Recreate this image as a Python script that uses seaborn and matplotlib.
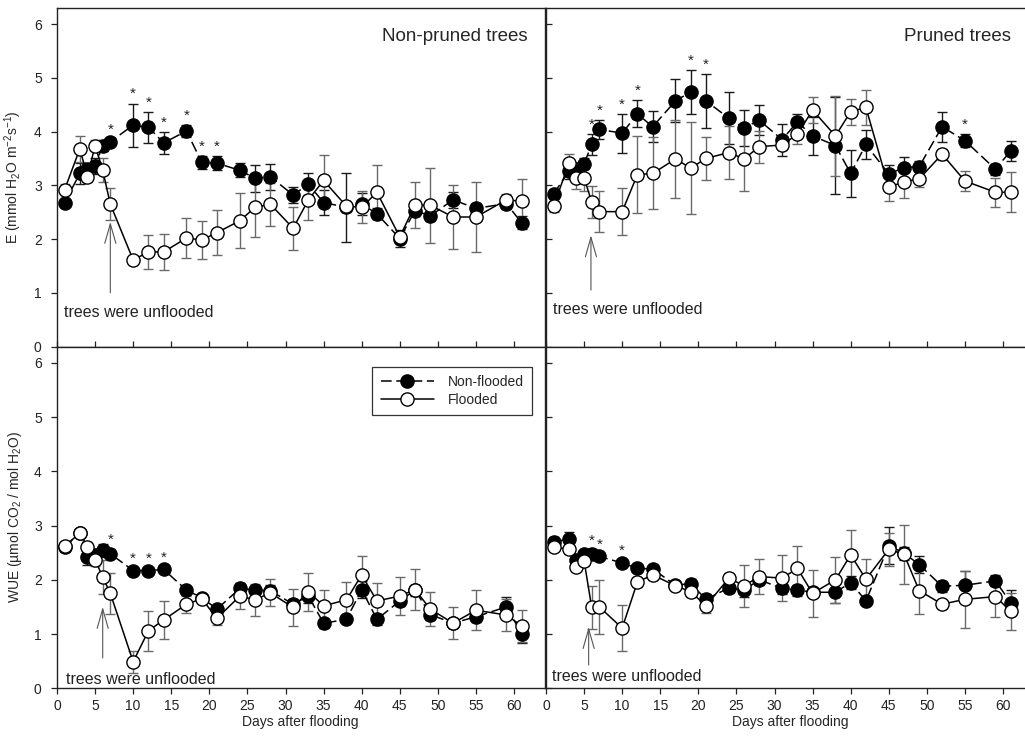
import matplotlib
matplotlib.use('Agg')
import matplotlib.pyplot as plt
import seaborn as sns


# Jours de mesure (communs aux 4 panneaux)
days = [1, 3, 4, 5, 6, 7, 10, 12, 14, 17, 19, 21, 24, 26, 28, 31, 33, 35, 38, 40,
        42, 45, 47, 49, 52, 55, 59, 61]

# E - arbres non taillés
e_np_nonflooded = [2.68, 3.22, 3.30, 3.36, 3.74, 3.81, 4.12, 4.08, 3.79, 4.01, 3.43, 3.41, 3.28, 3.13,
                   3.16, 2.82, 3.02, 2.68, 2.59, 2.65, 2.47, 2.01, 2.53, 2.43, 2.73, 2.57, 2.66, 2.30]
e_np_nonflooded_err = [0.07, 0.20, 0.10, 0.15, 0.10, 0.05, 0.40, 0.29, 0.20, 0.11, 0.12, 0.13, 0.13, 0.25,
                       0.24, 0.15, 0.20, 0.23, 0.64, 0.20, 0.10, 0.15, 0.10, 0.10, 0.15, 0.10, 0.10, 0.12]
e_np_flooded = [2.92, 3.68, 3.16, 3.74, 3.28, 2.65, 1.61, 1.76, 1.76, 2.02, 1.98, 2.12, 2.34, 2.59,
                2.65, 2.20, 2.73, 3.09, 2.61, 2.59, 2.87, 2.04, 2.63, 2.63, 2.41, 2.41, 2.73, 2.70]
e_np_flooded_err = [0.10, 0.24, 0.10, 0.10, 0.22, 0.30, 0.05, 0.32, 0.33, 0.38, 0.36, 0.42, 0.51, 0.55,
                    0.40, 0.40, 0.37, 0.47, 0.10, 0.30, 0.50, 0.10, 0.43, 0.70, 0.60, 0.66, 0.10, 0.42]

# E - arbres taillés
e_p_nonflooded = [2.84, 3.26, 3.30, 3.40, 3.76, 4.04, 3.97, 4.33, 4.09, 4.57, 4.74, 4.57, 4.25, 4.07,
                  4.21, 3.85, 4.18, 3.92, 3.74, 3.22, 3.76, 3.21, 3.33, 3.35, 4.09, 3.83, 3.30, 3.64]
e_p_nonflooded_err = [0.10, 0.15, 0.10, 0.10, 0.20, 0.17, 0.36, 0.25, 0.29, 0.40, 0.41, 0.50, 0.48, 0.34,
                      0.28, 0.30, 0.15, 0.35, 0.90, 0.43, 0.27, 0.16, 0.20, 0.10, 0.28, 0.12, 0.10, 0.18]
e_p_flooded = [2.61, 3.41, 3.14, 3.14, 2.69, 2.51, 2.51, 3.20, 3.22, 3.49, 3.32, 3.50, 3.61, 3.49,
               3.72, 3.75, 3.95, 4.40, 3.92, 4.37, 4.45, 2.96, 3.07, 3.12, 3.58, 3.08, 2.87, 2.87]
e_p_flooded_err = [0.10, 0.18, 0.20, 0.25, 0.29, 0.38, 0.44, 0.71, 0.67, 0.72, 0.85, 0.40, 0.50, 0.60,
                   0.30, 0.10, 0.18, 0.24, 0.75, 0.24, 0.33, 0.25, 0.30, 0.15, 0.10, 0.19, 0.27, 0.37]

# WUE - arbres non taillés
wue_np_nonflooded = [2.60, 2.87, 2.42, 2.45, 2.54, 2.48, 2.17, 2.17, 2.19, 1.81, 1.67, 1.46, 1.84, 1.81,
                     1.80, 1.55, 1.70, 1.20, 1.27, 1.82, 1.27, 1.61, 1.81, 1.36, 1.20, 1.32, 1.50, 1.01]
wue_np_nonflooded_err = [0.08, 0.07, 0.15, 0.10, 0.12, 0.08, 0.05, 0.05, 0.05, 0.07, 0.05, 0.06, 0.10, 0.08,
                         0.10, 0.10, 0.12, 0.08, 0.05, 0.15, 0.10, 0.10, 0.10, 0.10, 0.08, 0.10, 0.18, 0.17]
wue_np_flooded = [2.62, 2.86, 2.61, 2.37, 2.05, 1.75, 0.49, 1.06, 1.26, 1.55, 1.65, 1.29, 1.70, 1.63,
                  1.76, 1.49, 1.78, 1.52, 1.63, 2.09, 1.61, 1.70, 1.82, 1.46, 1.20, 1.44, 1.35, 1.15]
wue_np_flooded_err = [0.08, 0.05, 0.08, 0.12, 0.31, 0.38, 0.20, 0.37, 0.35, 0.16, 0.08, 0.12, 0.23, 0.30,
                      0.25, 0.34, 0.35, 0.30, 0.33, 0.34, 0.34, 0.35, 0.37, 0.32, 0.29, 0.37, 0.30, 0.30]

# WUE - arbres taillés
wue_p_nonflooded = [2.70, 2.75, 2.36, 2.47, 2.47, 2.43, 2.31, 2.21, 2.20, 1.90, 1.93, 1.64, 1.85, 1.81,
                    2.00, 1.84, 1.81, 1.77, 1.77, 1.95, 1.61, 2.63, 2.49, 2.28, 1.88, 1.90, 1.98, 1.58]
wue_p_nonflooded_err = [0.08, 0.14, 0.08, 0.08, 0.08, 0.05, 0.06, 0.06, 0.08, 0.08, 0.08, 0.10, 0.10, 0.12,
                        0.10, 0.10, 0.10, 0.08, 0.20, 0.12, 0.08, 0.34, 0.12, 0.15, 0.10, 0.27, 0.10, 0.23]
wue_p_flooded = [2.61, 2.56, 2.24, 2.35, 1.49, 1.50, 1.11, 1.96, 2.09, 1.89, 1.78, 1.52, 2.03, 1.89,
                 2.06, 2.03, 2.21, 1.75, 2.00, 2.46, 2.01, 2.56, 2.47, 1.80, 1.55, 1.64, 1.69, 1.42]
wue_p_flooded_err = [0.08, 0.08, 0.08, 0.10, 0.39, 0.50, 0.43, 0.10, 0.10, 0.08, 0.10, 0.14, 0.10, 0.39,
                     0.33, 0.43, 0.42, 0.43, 0.42, 0.46, 0.37, 0.30, 0.54, 0.43, 0.08, 0.53, 0.38, 0.34]

# Jours avec différence significative (*)
stars_e_np = [7, 10, 12, 14, 17, 19, 21]
stars_e_p = [6, 7, 10, 12, 19, 21, 55]
stars_wue_np = [7, 10, 12, 14]
stars_wue_p = [6, 7, 10]

panel_titles = ['Non-pruned trees', 'Pruned trees']
legend_labels = ['Non-flooded', 'Flooded']
unflooded_text = 'trees were unflooded'


###########################################################

sns.set_style('ticks')
plt.rcParams['font.family'] = ['Liberation Sans', 'DejaVu Sans']
plt.rcParams['mathtext.fontset'] = 'custom'
plt.rcParams['mathtext.rm'] = 'Liberation Sans'
plt.rcParams['mathtext.it'] = 'Liberation Sans:italic'
plt.rcParams['axes.edgecolor'] = '#222222'
plt.rcParams['axes.linewidth'] = 1.0


def trace_panel(ax, nonflooded, nonflooded_err, flooded, flooded_err, stars, label=False):
    ''' 
        trace les deux séries (non inondé / inondé) avec barres d'erreur et étoiles
    '''
    ax.errorbar(days, nonflooded, yerr=nonflooded_err, fmt='none', ecolor='#1a1a1a',
                elinewidth=1.0, capsize=3.5, capthick=1.0, zorder=2)
    ax.errorbar(days, flooded, yerr=flooded_err, fmt='none', ecolor='#6a6a6a',
                elinewidth=1.0, capsize=3.5, capthick=1.0, zorder=2)
    sns.lineplot(x=days, y=nonflooded, ax=ax, color='black', linewidth=1.1,
                 linestyle=(0, (7, 3)), marker='o', markersize=9.5,
                 markerfacecolor='black', markeredgecolor='black', markeredgewidth=1.0,
                 errorbar=None, zorder=3, label=legend_labels[0] if label else None)
    sns.lineplot(x=days, y=flooded, ax=ax, color='black', linewidth=1.1,
                 marker='o', markersize=9.5, markerfacecolor='white',
                 markeredgecolor='black', markeredgewidth=1.0,
                 errorbar=None, zorder=4, label=legend_labels[1] if label else None)

    # étoiles au-dessus de la barre d'erreur de la série non inondée
    for d in stars:
        i = days.index(d)
        ax.text(d, nonflooded[i] + nonflooded_err[i] + 0.1, '*', ha='center',
                va='baseline', fontsize=11, color='#222222')


fig = plt.figure(figsize=(10.25, 7.36), dpi=100)

W, H = 1025, 736
col_x = [57, 546]
row_y = [(8, 346.5), (346.5, 688.3)]
ax_w = 487.5

axes = {}
for r, (y_top, y_bot) in enumerate(row_y):
    for c, x0 in enumerate(col_x):
        axes[(r, c)] = fig.add_axes([x0 / W, 1 - y_bot / H, ax_w / W, (y_bot - y_top) / H])

trace_panel(axes[(0, 0)], e_np_nonflooded, e_np_nonflooded_err, e_np_flooded, e_np_flooded_err, stars_e_np)
trace_panel(axes[(0, 1)], e_p_nonflooded, e_p_nonflooded_err, e_p_flooded, e_p_flooded_err, stars_e_p)
trace_panel(axes[(1, 0)], wue_np_nonflooded, wue_np_nonflooded_err, wue_np_flooded, wue_np_flooded_err,
            stars_wue_np, label=True)
trace_panel(axes[(1, 1)], wue_p_nonflooded, wue_p_nonflooded_err, wue_p_flooded, wue_p_flooded_err,
            stars_wue_p)

for (r, c), ax in axes.items():
    ax.set_xlim(0, 64)
    ax.set_ylim(0, 6.3)
    ax.set_xticks(range(0, 65, 5))
    ax.set_yticks(range(0, 7))
    ax.tick_params(colors='#222222', labelsize=10, length=4, width=0.9)
    for s in ax.spines.values():
        s.set_visible(True)
    ax.set_xlabel('')
    ax.set_ylabel('')
    if r == 0:
        ax.tick_params(axis='x', direction='in', labelbottom=False)
    else:
        ax.set_xlabel('Days after flooding', fontsize=10, labelpad=2)
    if c == 1:
        ax.tick_params(axis='y', direction='in', labelleft=False)
        ax.spines['right'].set_visible(False)
    else:
        ax.tick_params(axis='y', pad=7)

axes[(0, 0)].set_ylabel('E (mmol H$_2$O m$^{-2}$s$^{-1}$)', fontsize=10)
axes[(1, 0)].set_ylabel('WUE (µmol CO$_2$ / mol H$_2$O)', fontsize=10)
axes[(0, 0)].yaxis.set_label_coords(-0.068, 0.5)
axes[(1, 0)].yaxis.set_label_coords(-0.068, 0.5)

# titres des colonnes
axes[(0, 0)].text(0.965, 0.915, panel_titles[0], transform=axes[(0, 0)].transAxes,
                  ha='right', va='center', fontsize=13.5)
axes[(0, 1)].text(0.953, 0.915, panel_titles[1], transform=axes[(0, 1)].transAxes,
                  ha='right', va='center', fontsize=13.5)

# flèches "trees were unflooded"
arrows = {(0, 0): (7.0, 1.0, 2.32, 0.9, 0.64),
          (0, 1): (5.9, 1.05, 2.07, 0.9, 0.68),
          (1, 0): (6.0, 0.56, 1.50, 1.2, 0.17),
          (1, 1): (5.6, 0.43, 1.13, 0.75, 0.21)}
for key, (xa, y0, y1, xt, yt) in arrows.items():
    ax = axes[key]
    ax.annotate('', xy=(xa, y1), xytext=(xa, y0),
                arrowprops=dict(arrowstyle='->, head_length=1.4, head_width=0.4',
                                color='#555555', lw=0.8, shrinkA=0, shrinkB=0))
    ax.text(xt, yt, unflooded_text, ha='left', va='center', fontsize=11.5, color='#222222')

leg = axes[(1, 0)].legend(loc='upper right', bbox_to_anchor=(0.974, 0.94), borderaxespad=0,
                          fontsize=10, frameon=True, fancybox=False, framealpha=1,
                          edgecolor='#333333', handlelength=3.8, handletextpad=1.0,
                          borderpad=0.6, labelspacing=0.25, numpoints=1)
leg.get_frame().set_linewidth(0.9)

fig.savefig('out.png', dpi=100)
